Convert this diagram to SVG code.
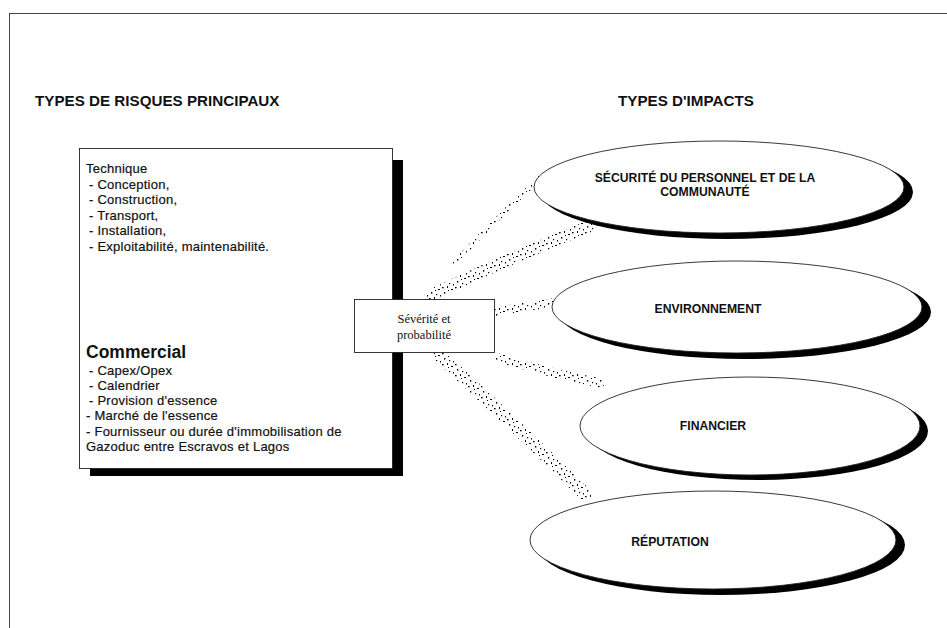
<svg xmlns="http://www.w3.org/2000/svg" width="947" height="628" viewBox="0 0 947 628">
  <style>
    .head { font-family: "Liberation Sans", Arial, sans-serif; font-weight: bold; font-size: 15.2px; fill: #111; }
    .body { font-family: "Liberation Sans", Arial, sans-serif; font-size: 13px; letter-spacing: 0.25px; fill: #111; stroke: #111; stroke-width: 0.2px; }
    .big { font-family: "Liberation Sans", Arial, sans-serif; font-weight: bold; font-size: 17.5px; fill: #111; }
    .serif { font-family: "Liberation Serif", "Times New Roman", serif; font-size: 12.5px; fill: #111; }
    .lab { font-family: "Liberation Sans", Arial, sans-serif; font-weight: bold; font-size: 12.2px; fill: #111; text-anchor: middle; }
    .shadow { fill: #000; }
    .face { fill: #fff; stroke: #222; stroke-width: 0.9; }
    .band { fill: none; stroke: url(#speckle); stroke-linecap: round; }
  </style>
  <defs>
    <!-- irregular stipple used for the shaded connector bands -->
    <pattern id="speckle" width="13" height="11" patternUnits="userSpaceOnUse">
      <rect x="0" y="1" width="1.6" height="1.3" fill="#000"/>
      <rect x="5" y="0" width="1" height="2" fill="#000"/>
      <rect x="9" y="3" width="2" height="1" fill="#000"/>
      <rect x="2" y="6" width="1.3" height="1.6" fill="#000"/>
      <rect x="7" y="8" width="1.2" height="1.2" fill="#000"/>
      <rect x="11" y="9" width="1" height="1.5" fill="#000"/>
      <rect x="6" y="4" width="1" height="1" fill="#000"/>
    </pattern>
  </defs>

  <rect width="947" height="628" fill="#fff"/>

  <!-- page frame -->
  <g id="frame" stroke="#444" stroke-width="1">
    <line x1="9" y1="13.5" x2="947" y2="13.5"/>
    <line x1="9.5" y1="13" x2="9.5" y2="628"/>
  </g>

  <!-- column headings -->
  <text class="head" x="35" y="106">TYPES DE RISQUES PRINCIPAUX</text>
  <text class="head" x="618" y="106">TYPES D'IMPACTS</text>

  <!-- shaded connector bands -->
  <g id="connectors">
    <path class="band" stroke-width="12" d="M430 296 Q500 262 590 226"/>
    <path class="band" stroke-width="5" d="M455 262 Q500 215 540 178"/>
    <path class="band" stroke-width="9" d="M496 312 Q525 306 552 303"/>
    <path class="band" stroke-width="9" d="M500 358 Q545 372 600 383"/>
    <path class="band" stroke-width="13" d="M440 356 Q510 420 585 494"/>
  </g>

  <!-- risk list -->
  <g id="risques">
    <rect class="shadow" x="90" y="160" width="313" height="316"/>
    <rect class="face" x="79.5" y="148.5" width="313" height="320"/>
    <text class="body" x="86" y="173">Technique</text>
    <text class="body" x="89" y="189">- Conception,</text>
    <text class="body" x="89" y="204">- Construction,</text>
    <text class="body" x="89" y="220">- Transport,</text>
    <text class="body" x="89" y="235">- Installation,</text>
    <text class="body" x="89" y="251">- Exploitabilité, maintenabilité.</text>
    <text class="big" x="86" y="358">Commercial</text>
    <text class="body" x="89" y="375">- Capex/Opex</text>
    <text class="body" x="89" y="390">- Calendrier</text>
    <text class="body" x="89" y="405">- Provision d'essence</text>
    <text class="body" x="86" y="420">- Marché de l'essence</text>
    <text class="body" x="86" y="436">- Fournisseur ou durée d'immobilisation de</text>
    <text class="body" x="86" y="451">Gazoduc entre Escravos et Lagos</text>
  </g>

  <!-- severity / probability box -->
  <g id="severite">
    <rect class="face" x="354.5" y="299.5" width="140" height="53" stroke-width="1.2"/>
    <text class="serif" x="424" y="323" text-anchor="middle">Sévérité et</text>
    <text class="serif" x="424" y="339" text-anchor="middle">probabilité</text>
  </g>

  <!-- impact ellipses -->
  <g id="securite">
    <ellipse class="shadow" cx="727" cy="192" rx="186" ry="47"/>
    <ellipse class="face" cx="719" cy="187" rx="185" ry="46"/>
    <text class="lab" x="705" y="182">SÉCURITÉ DU PERSONNEL ET DE LA</text>
    <text class="lab" x="705" y="196">COMMUNAUTÉ</text>
  </g>
  <g id="environnement">
    <ellipse class="shadow" cx="745" cy="312" rx="186" ry="47"/>
    <ellipse class="face" cx="737" cy="307" rx="185" ry="46"/>
    <text class="lab" x="708" y="313">ENVIRONNEMENT</text>
  </g>
  <g id="financier">
    <ellipse class="shadow" cx="758" cy="431" rx="170" ry="49"/>
    <ellipse class="face" cx="750" cy="426" rx="170" ry="49"/>
    <text class="lab" x="713" y="430">FINANCIER</text>
  </g>
  <g id="reputation">
    <ellipse class="shadow" cx="721" cy="545" rx="184" ry="50"/>
    <ellipse class="face" cx="713" cy="540" rx="183" ry="49"/>
    <text class="lab" x="670" y="546">RÉPUTATION</text>
  </g>
</svg>
